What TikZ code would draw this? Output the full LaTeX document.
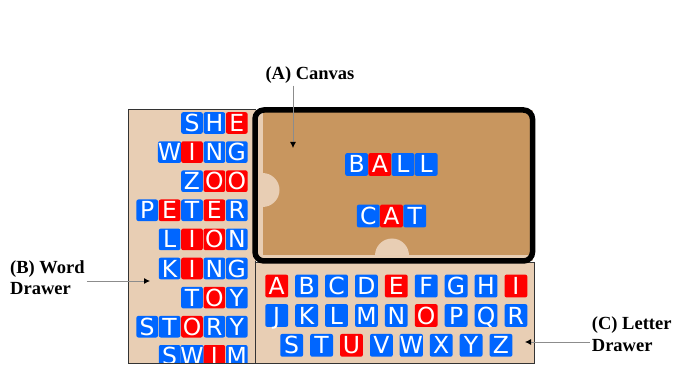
\documentclass[tikz,border=0pt]{standalone}
\usepackage{fontspec}
\setmainfont{Liberation Serif}
\newfontfamily\tilefont{DejaVu Sans}
\usetikzlibrary{arrows.meta}
\definecolor{drawerbg}{HTML}{E8CEB4}
\definecolor{canvasbg}{HTML}{C8965F}
\definecolor{tileb}{HTML}{0066FF}
\definecolor{tiler}{HTML}{FF0000}
\definecolor{arrowgray}{HTML}{8C8C8C}
\begin{document}
\begin{tikzpicture}[
  x=1pt, y=-1pt,
  lbl/.style={font=\bfseries\fontsize{18.5}{21.5}\selectfont, align=left, inner sep=2pt},
  tile/.style={rounded corners=2pt, minimum size=21.6pt, inner sep=0pt, text=white,
    font=\tilefont\fontsize{23.5}{23.5}\selectfont, text height=17pt, text depth=0pt},
  bigtile/.style={tile, minimum size=22.8pt},
  drawer/.style={fill=drawerbg, draw=black!80, line width=0.8pt},
  arr/.style={-{Latex[length=6pt, width=6pt, color=black]}, draw=arrowgray, line width=0.8pt}
]
\useasboundingbox (0,0) rectangle (675,366);
% drawers
\draw[drawer] (128.7,109.3) rectangle (255,363.3);
\draw[drawer] (255,262) rectangle (534.3,363.3);
% canvas
\fill[drawerbg] (255,110) rectangle (532.5,261);
\fill[canvasbg] (262.5,112) rectangle (530,255.5);
\begin{scope}
  \clip (255,110) rectangle (532.5,261);
  \fill[drawerbg] (262.5,190) circle (17);
  \fill[drawerbg] (392,255.5) circle (17);
\end{scope}
\draw[line width=5.5pt, rounded corners=9pt] (255,110) rectangle (532.5,261);
% word drawer
\begin{scope}
  \clip (128.7,109.3) rectangle (255,362.9);
  \foreach \n/\wrd [count=\r from 0] in {3/{S/b,H/b,E/r}, 4/{W/b,I/r,N/b,G/b},
      3/{Z/b,O/r,O/r}, 5/{P/b,E/r,T/b,E/r,R/b}, 4/{L/b,I/r,O/r,N/b},
      4/{K/b,I/r,N/b,G/b}, 3/{T/b,O/r,Y/b}, 5/{S/b,T/b,O/r,R/b,Y/b},
      4/{S/b,W/b,I/r,M/b}}
    \foreach \ch/\cl [count=\i] in \wrd
      \node[tile, fill=tile\cl] (w\r-\i) at ({236.8-(\n-\i)*22.4}, {123+29.1*\r}) {\ch};
\end{scope}
\draw[black!80, line width=0.8pt] (128.7,363.3) -- (255,363.3);
% words on the canvas
\foreach \ch/\cl [count=\i from 0] in {B/b,A/r,L/b,L/b}
  \node[bigtile, fill=tile\cl] (ball\i) at ({356.6+23.2*\i}, 164.5) {\ch};
\foreach \ch/\cl [count=\i from 0] in {C/b,A/r,T/b}
  \node[bigtile, fill=tile\cl] (cat\i) at ({368.3+23.2*\i}, 216) {\ch};
% letter drawer
\foreach \ch/\cl [count=\i from 0] in {A/r,B/b,C/b,D/b,E/r,F/b,G/b,H/b,I/r}
  \node[bigtile, fill=tile\cl] (l\ch) at ({276.7+29.9*\i}, 286) {\ch};
\foreach \ch/\cl [count=\i from 0] in {J/b,K/b,L/b,M/b,N/b,O/r,P/b,Q/b,R/b}
  \node[bigtile, fill=tile\cl] (l\ch) at ({276.7+29.9*\i}, 315.5) {\ch};
\foreach \ch/\cl [count=\i from 0] in {S/b,T/b,U/r,V/b,W/b,X/b,Y/b,Z/b}
  \node[bigtile, fill=tile\cl] (l\ch) at ({291.7+29.9*\i}, 345.3) {\ch};
% labels
\node[lbl] (lblA) at (310,75) {(A) Canvas};
\coordinate (tipA) at (293,148);
\draw[arr] (lblA.south -| tipA) -- (tipA);
\node[lbl, anchor=west] (lblB) at (8,277.5) {(B) Word\\Drawer};
\coordinate (tipB) at (150,281);
\draw[arr] (lblB.east |- tipB) -- (tipB);
\node[lbl, anchor=west] (lblC) at (589.7,334) {(C) Letter\\Drawer};
\coordinate (tipC) at (525,342);
\draw[arr] (lblC.west |- tipC) -- (tipC);
\end{tikzpicture}
\end{document}
